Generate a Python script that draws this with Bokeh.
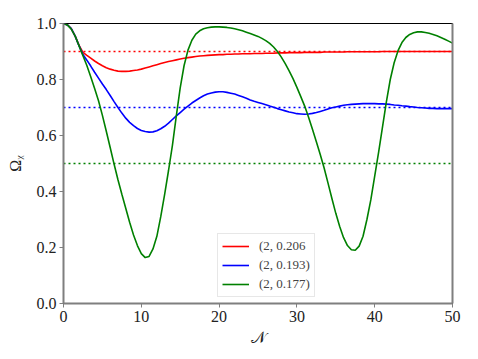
from bokeh.plotting import figure
from bokeh.models import Range1d, LinearAxis, FixedTicker, Legend, LegendItem
from bokeh.embed import file_html
from bokeh.resources import INLINE

x = [i * 0.5 for i in range(0, 101)]

red = [1.000, 0.995, 0.982, 0.955, 0.922, 0.897, 0.886, 0.876, 0.866, 0.857,
       0.849, 0.842, 0.837, 0.833, 0.830, 0.829, 0.829, 0.830, 0.832, 0.834,
       0.837, 0.841, 0.845, 0.849, 0.853, 0.857, 0.861, 0.864, 0.867, 0.870,
       0.873, 0.876, 0.878, 0.880, 0.882, 0.884, 0.885, 0.886, 0.887, 0.888,
       0.889, 0.889, 0.890, 0.890, 0.891, 0.891, 0.892, 0.892, 0.892, 0.893,
       0.893, 0.893, 0.894, 0.894, 0.894, 0.895, 0.895, 0.895, 0.896, 0.896,
       0.896, 0.896, 0.897, 0.897, 0.897, 0.897, 0.897, 0.898, 0.898, 0.898,
       0.898, 0.898, 0.898, 0.899, 0.899, 0.899, 0.899, 0.899, 0.899, 0.899,
       0.899, 0.899, 0.900, 0.900, 0.900, 0.900, 0.900, 0.900, 0.900, 0.900,
       0.900, 0.900, 0.900, 0.900, 0.900, 0.900, 0.900, 0.900, 0.900, 0.900,
       0.900]

blue = [1.000, 0.995, 0.982, 0.955, 0.920, 0.889, 0.869, 0.848, 0.826, 0.805,
        0.784, 0.764, 0.743, 0.721, 0.700, 0.680, 0.662, 0.647, 0.635, 0.625,
        0.618, 0.614, 0.612, 0.613, 0.617, 0.624, 0.633, 0.644, 0.657, 0.670,
        0.682, 0.694, 0.705, 0.716, 0.725, 0.734, 0.742, 0.748, 0.752, 0.755,
        0.756, 0.756, 0.754, 0.751, 0.748, 0.743, 0.738, 0.733, 0.727, 0.722,
        0.718, 0.714, 0.710, 0.705, 0.701, 0.696, 0.692, 0.688, 0.684, 0.681,
        0.678, 0.677, 0.676, 0.677, 0.679, 0.682, 0.686, 0.690, 0.695, 0.699,
        0.702, 0.705, 0.708, 0.710, 0.711, 0.712, 0.713, 0.714, 0.714, 0.714,
        0.714, 0.713, 0.713, 0.712, 0.711, 0.709, 0.708, 0.706, 0.705, 0.703,
        0.702, 0.700, 0.699, 0.698, 0.697, 0.697, 0.696, 0.696, 0.696, 0.696,
        0.696]

green = [1.000, 0.995, 0.980, 0.955, 0.920, 0.885, 0.850, 0.810, 0.768, 0.724,
         0.672, 0.615, 0.557, 0.498, 0.442, 0.390, 0.340, 0.290, 0.245, 0.207,
         0.178, 0.164, 0.168, 0.195, 0.240, 0.310, 0.390, 0.475, 0.565, 0.670,
         0.770, 0.850, 0.905, 0.940, 0.962, 0.974, 0.981, 0.985, 0.987, 0.988,
         0.988, 0.987, 0.986, 0.984, 0.981, 0.978, 0.974, 0.969, 0.964, 0.959,
         0.954, 0.947, 0.939, 0.929, 0.916, 0.900, 0.880, 0.857, 0.831, 0.803,
         0.772, 0.739, 0.705, 0.665, 0.622, 0.578, 0.532, 0.484, 0.430, 0.375,
         0.322, 0.275, 0.235, 0.207, 0.192, 0.190, 0.205, 0.240, 0.300, 0.370,
         0.455, 0.540, 0.630, 0.720, 0.800, 0.860, 0.903, 0.932, 0.950, 0.961,
         0.967, 0.970, 0.970, 0.968, 0.965, 0.961, 0.956, 0.950, 0.944, 0.937,
         0.930]

targets = [0.9, 0.7, 0.5]
labels = ["(2, 0.206", "(2, 0.193)", "(2, 0.177)"]
colors = ["#ff0000", "#0000ff", "#008000"]
x_line = [0, 50]

FONT = "Liberation Serif"
GREY = "#7f7f7f"

p = figure(width=476, height=356, output_backend="svg", toolbar_location=None,
           x_range=Range1d(0, 50), y_range=Range1d(0, 1),
           min_border_left=63, min_border_right=24, min_border_top=23, min_border_bottom=53)
p.grid.visible = False
p.outline_line_color = "black"
p.outline_line_width = 1

for t, c in zip(targets, colors):
    p.line(x_line, [t, t], line_color=c, line_width=1.6, line_dash="2 3")

renderers = []
for ys, c in zip([red, blue, green], colors):
    r = p.line(x, ys, line_color=c, line_width=1.6)
    renderers.append(r)

legend = Legend(items=[LegendItem(label=l, renderers=[r]) for l, r in zip(labels, renderers)],
                location=(154, 6), label_text_font=FONT, label_text_font_size="13px",
                glyph_width=27, glyph_height=16, label_height=16, spacing=3,
                padding=4, margin=0, border_line_color="#d0d0d0", border_line_width=1,
                background_fill_alpha=0.9, label_standoff=10)
p.add_layout(legend, "center")

p.xaxis.ticker = FixedTicker(ticks=[0, 10, 20, 30, 40, 50])
p.yaxis.ticker = FixedTicker(ticks=[0.0, 0.2, 0.4, 0.6, 0.8, 1.0])
p.yaxis.major_label_overrides = {0.0: "0.0", 0.2: "0.2", 0.4: "0.4", 0.6: "0.6", 0.8: "0.8", 1.0: "1.0"}
for ax in [p.xaxis[0], p.yaxis[0]]:
    ax.axis_line_color = GREY
    ax.axis_line_width = 2
    ax.major_tick_line_color = GREY
    ax.major_tick_line_width = 1
    ax.major_tick_out = 4
    ax.major_tick_in = 0
    ax.minor_tick_line_color = None
    ax.major_label_text_font = FONT
    ax.major_label_text_font_size = "16px"
    ax.major_label_text_color = "#222222"
    ax.axis_label_text_font = FONT
    ax.axis_label_text_font_size = "16px"
    ax.axis_label_text_font_style = "normal"
    ax.axis_label_text_color = "#222222"
p.xaxis.axis_label = "𝒩"
p.yaxis.axis_label = "Ωᵪ"
p.xaxis.major_label_standoff = 3
p.yaxis.major_label_standoff = 3
p.xaxis.axis_label_standoff = 4
p.yaxis.axis_label_standoff = 10

right = LinearAxis(ticker=FixedTicker(ticks=[]), axis_line_color=GREY, axis_line_width=2,
                   major_label_text_font_size="0px", minor_tick_line_color=None,
                   major_tick_line_color=None)
p.add_layout(right, "right")

open("out.html", "w").write(file_html(p, INLINE))
